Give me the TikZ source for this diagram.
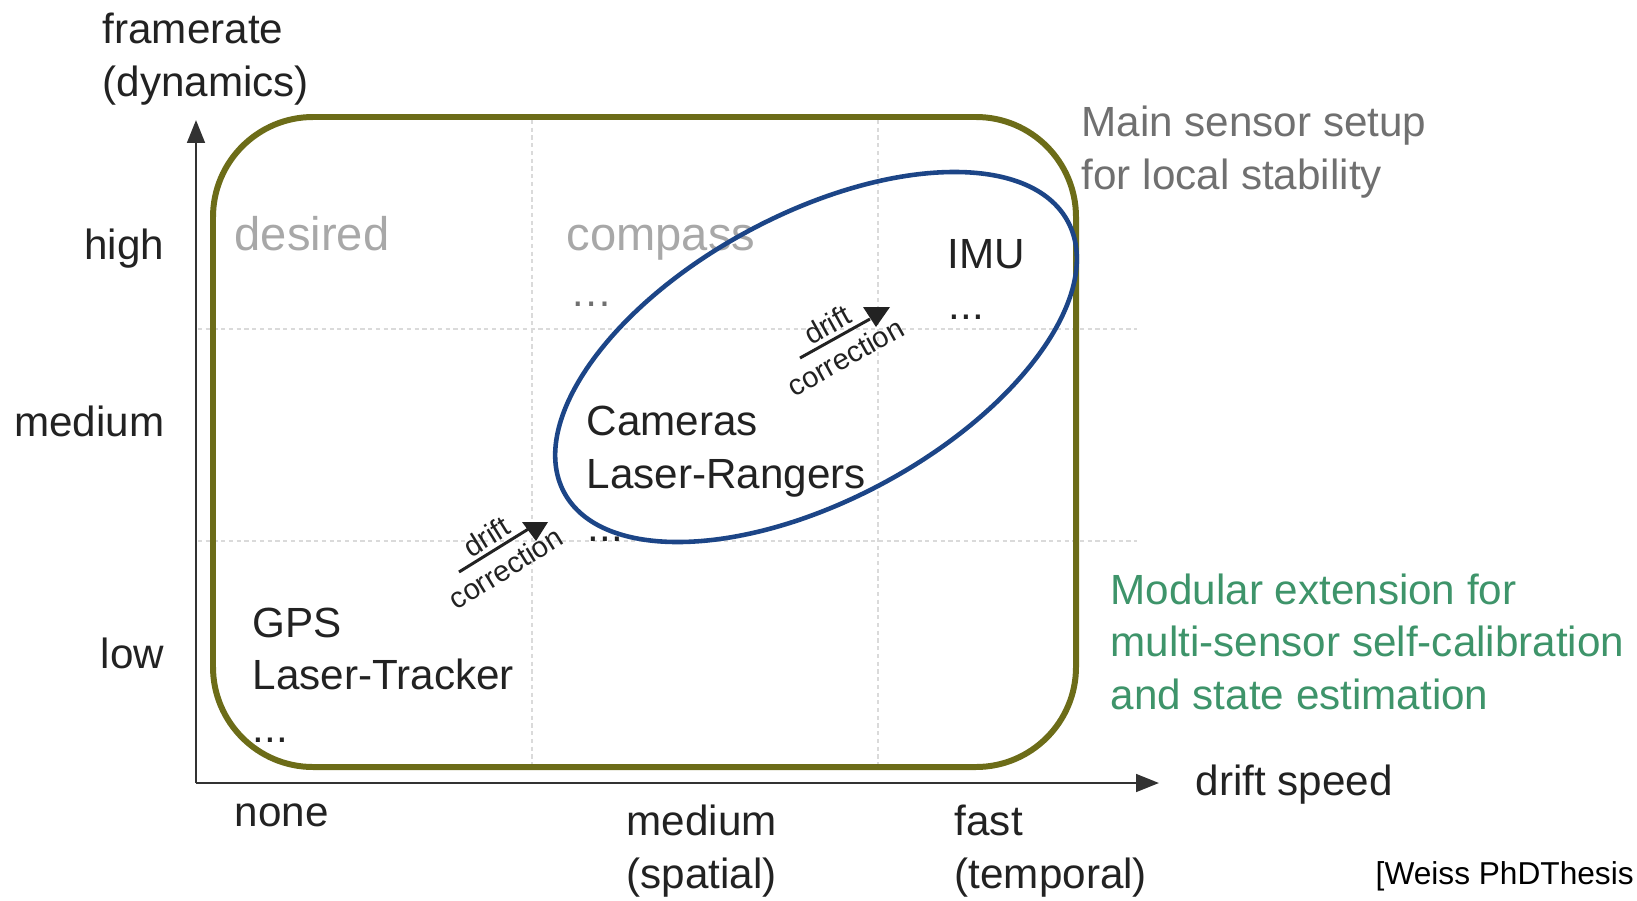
\documentclass[tikz,border=0pt]{standalone}
\usepackage{fontspec}
\setmainfont{Liberation Sans}
\usepackage{tikz}
\usetikzlibrary{arrows.meta, positioning}
\definecolor{myolive}{RGB}{108,108,24}
\definecolor{myblue}{RGB}{28,69,135}
\definecolor{mygreen}{RGB}{62,148,106}
\definecolor{mygray}{RGB}{112,112,112}
\definecolor{mylight}{RGB}{168,168,168}
\definecolor{mygrid}{RGB}{218,218,218}
\definecolor{mydark}{RGB}{34,34,34}
\definecolor{myaxis}{RGB}{50,50,50}
\tikzset{
  lbl/.style={inner sep=0pt, anchor=base west, align=left,
    font=\fontsize{12}{14.8}\selectfont, text=mydark},
  ticklbl/.style={lbl, anchor=base east},
  fadedlbl/.style={lbl, font=\fontsize{13.4}{16}\selectfont, text=mylight},
  notelbl/.style={lbl, text=mygray},
  modlbl/.style={lbl, text=mygreen},
  citelbl/.style={lbl, font=\fontsize{9}{11}\selectfont, text=black},
  driftlbl/.style={inner sep=0pt, sloped, font=\fontsize{8.3}{10}\selectfont, text=mydark},
  axis/.style={-{Triangle[length=6.5pt, width=5pt]}, line width=0.75pt, color=myaxis},
  gridline/.style={line width=0.3pt, color=mygrid, dash pattern=on 1.2pt off 1pt},
  driftline/.style={line width=0.85pt, color=mydark},
  olivebox/.style={line width=1.7pt, draw=myolive, rounded corners=1cm},
  blueset/.style={line width=1.3pt, draw=myblue}
}

\begin{document}
\begin{tikzpicture}[x=0.01cm, y=-0.01cm]
  \useasboundingbox (0,0) rectangle (1637,900);

  % grid
  \foreach \gx in {532,878} \draw[gridline] (\gx,120) -- (\gx,767);
  \foreach \gy in {329,541} \draw[gridline] (198,\gy) -- (1137,\gy);

  % axes
  \coordinate (origin) at (196,783);
  \coordinate (ytip) at (196,120);
  \coordinate (xtip) at (1159,783);
  \draw[axis] (origin) -- (ytip);
  \draw[axis] (origin) -- (xtip);

  \node[lbl] (yname) at (102,96) {framerate\\(dynamics)};
  \node[ticklbl] (yhigh) at (165,259) {high};
  \node[ticklbl] (ymed) at (165,436) {medium};
  \node[ticklbl] (ylow) at (165,668) {low};
  \node[lbl] (xnone) at (234,826) {none};
  \node[lbl] (xmed) at (626,888) {medium\\(spatial)};
  \node[lbl] (xfast) at (954,888) {fast\\(temporal)};
  \node[lbl] (xname) at (1195,795) {drift speed};

  % sensors
  \node[fadedlbl] (desired) at (234,250) {desired};
  \node[fadedlbl] (compass) at (566,250) {compass};
  \node[lbl, text=mygray] (compdots) at (570,306) {\dots};
  \node[lbl] (imu) at (947,268) {IMU};
  \node[lbl] (imudots) at (948,319) {...};
  \node[lbl] (cams) at (586,488) {Cameras\\Laser-Rangers};
  \node[lbl] (camdots) at (587,541) {...};
  \node[lbl] (gps) at (252,742) {GPS\\Laser-Tracker\\...};

  % sets
  \draw[olivebox] (213,117) rectangle (1076,767);
  \draw[blueset, rotate around={28.3:(816,357)}] (816,357) ellipse [x radius=286, y radius=143];

  % drift correction
  \coordinate (d1a) at (459,572);
  \coordinate (d1b) at (530,528);
  \draw[driftline] (d1a) -- node[driftlbl, above=1pt] {drift} node[driftlbl, below=2.5pt] {correction} (d1b);
  \fill[mydark] (522,522) -- (548,522) -- (536,541) -- cycle;
  \coordinate (d2a) at (800,358);
  \coordinate (d2b) at (870,319);
  \draw[driftline] (d2a) -- node[driftlbl, above=1pt] {drift} node[driftlbl, below=2.5pt] {correction} (d2b);
  \fill[mydark] (863,307) -- (890,307) -- (876,327) -- cycle;

  % notes
  \node[notelbl] (mainnote) at (1081,189) {Main sensor setup\\for local stability};
  \node[modlbl] (modnote) at (1110,709) {Modular extension for\\multi-sensor self-calibration\\and state estimation};
  \node[citelbl] (cite) at (1375,884) {[Weiss PhDThesis};
\end{tikzpicture}
\end{document}
